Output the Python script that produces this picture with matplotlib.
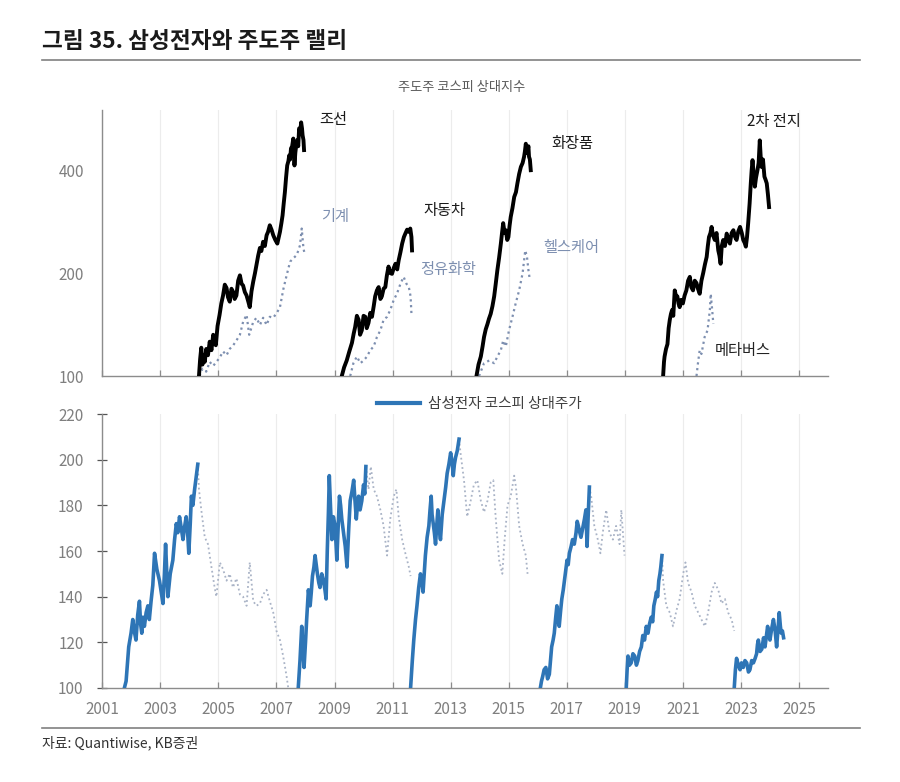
import matplotlib
matplotlib.use("Agg")
import matplotlib.pyplot as plt
from matplotlib.lines import Line2D
from matplotlib.ticker import NullLocator, FixedLocator

plt.rcParams['font.family'] = ['Noto Sans CJK KR', 'DejaVu Sans']

# ---------------- data: top panel (leading sectors, relative to KOSPI) ----------------
ship_x = [2004.33, 2004.37, 2004.41, 2004.45, 2004.50, 2004.53, 2004.58, 2004.64, 2004.70, 2004.76,
          2004.82, 2004.87, 2004.91, 2004.97, 2005.04, 2005.10, 2005.16, 2005.22, 2005.28, 2005.33,
          2005.39, 2005.45, 2005.51, 2005.56, 2005.62, 2005.68, 2005.74, 2005.80, 2005.85, 2005.91,
          2005.97, 2006.03, 2006.08, 2006.14, 2006.20, 2006.26, 2006.31, 2006.37, 2006.43, 2006.48,
          2006.54, 2006.60, 2006.66, 2006.71, 2006.77, 2006.83, 2006.89, 2006.96, 2007.03, 2007.08,
          2007.12, 2007.17, 2007.21, 2007.25, 2007.29, 2007.33, 2007.37, 2007.41, 2007.44, 2007.47,
          2007.50, 2007.54, 2007.58, 2007.60, 2007.62, 2007.65, 2007.68, 2007.72, 2007.75, 2007.78,
          2007.82, 2007.85, 2007.88, 2007.90, 2007.93, 2007.95]
ship_y = [100, 112, 121, 108, 115, 110, 120, 115, 126, 119,
          132, 126, 123, 140, 151, 163, 172, 185, 181, 170,
          165, 180, 176, 168, 172, 190, 197, 186, 184, 176,
          172, 165, 159, 177, 189, 200, 211, 225, 237, 232,
          247, 240, 258, 264, 276, 268, 258, 250, 244, 255,
          264, 280, 295, 320, 345, 380, 413, 425, 442, 430,
          463, 470, 495, 450, 413, 450, 473, 490, 470, 530,
          520, 552, 530, 506, 490, 458]

mach_x = [2004.35, 2004.45, 2004.58, 2004.70, 2004.82, 2004.93, 2005.04, 2005.16, 2005.28, 2005.39,
          2005.51, 2005.62, 2005.74, 2005.85, 2005.97, 2006.06, 2006.20, 2006.31, 2006.43, 2006.54,
          2006.66, 2006.77, 2006.89, 2007.03, 2007.12, 2007.24, 2007.35, 2007.47, 2007.58, 2007.70,
          2007.81, 2007.87, 2007.93, 2007.98]
mach_y = [100, 105, 103, 110, 107, 110, 113, 118, 115, 120,
          123, 127, 132, 144, 151, 132, 144, 148, 141, 148,
          141, 149, 148, 154, 159, 180, 197, 216, 221, 226,
          241, 270, 236, 226]

auto_x = [2009.25, 2009.33, 2009.42, 2009.51, 2009.60, 2009.66, 2009.71, 2009.77, 2009.83, 2009.88,
          2009.94, 2010.00, 2010.06, 2010.11, 2010.17, 2010.23, 2010.29, 2010.35, 2010.40, 2010.46,
          2010.52, 2010.58, 2010.63, 2010.69, 2010.75, 2010.80, 2010.86, 2010.92, 2010.98, 2011.04,
          2011.10, 2011.16, 2011.21, 2011.27, 2011.33, 2011.39, 2011.44, 2011.50, 2011.56, 2011.61,
          2011.65, 2011.67]
auto_y = [100, 106, 111, 118, 125, 133, 139, 150, 146, 132,
          136, 150, 149, 138, 143, 153, 149, 160, 171, 178,
          182, 168, 171, 180, 182, 196, 209, 200, 199, 207,
          213, 205, 218, 230, 244, 255, 261, 268, 264, 270,
          255, 233]

chem_x = [2009.54, 2009.65, 2009.77, 2009.89, 2010.00, 2010.12, 2010.23, 2010.35, 2010.46, 2010.58,
          2010.69, 2010.81, 2010.92, 2011.04, 2011.15, 2011.27, 2011.38, 2011.48, 2011.56, 2011.62,
          2011.65]
chem_y = [100, 109, 114, 109, 111, 114, 119, 122, 130, 136,
          146, 149, 156, 167, 174, 186, 195, 186, 182, 171,
          152]

cos_x = [2013.89, 2013.96, 2014.04, 2014.10, 2014.15, 2014.21, 2014.27, 2014.32, 2014.38, 2014.44,
         2014.50, 2014.55, 2014.61, 2014.67, 2014.73, 2014.77, 2014.81, 2014.86, 2014.90, 2014.95,
         2014.99, 2015.03, 2015.07, 2015.13, 2015.19, 2015.25, 2015.30, 2015.36, 2015.42, 2015.48,
         2015.53, 2015.56, 2015.59, 2015.62, 2015.65, 2015.68, 2015.70, 2015.73, 2015.76]
cos_y = [100, 108, 114, 122, 130, 137, 142, 147, 152, 160,
         171, 185, 204, 222, 244, 262, 280, 262, 267, 250,
         255, 275, 292, 310, 334, 345, 366, 390, 409, 420,
         438, 455, 478, 450, 458, 470, 438, 430, 400]

hc_x = [2013.98, 2014.15, 2014.33, 2014.50, 2014.61, 2014.73, 2014.81, 2014.90, 2015.01, 2015.13,
        2015.24, 2015.36, 2015.48, 2015.57, 2015.63, 2015.68, 2015.73]
hc_y = [100, 109, 111, 109, 114, 119, 127, 122, 136, 149,
        163, 178, 200, 233, 223, 204, 191]

batt_x = [2020.32, 2020.35, 2020.37, 2020.42, 2020.47, 2020.51, 2020.55, 2020.59, 2020.63, 2020.67,
          2020.72, 2020.76, 2020.81, 2020.85, 2020.89, 2020.94, 2021.00, 2021.06, 2021.12, 2021.18,
          2021.24, 2021.29, 2021.35, 2021.41, 2021.47, 2021.52, 2021.58, 2021.64, 2021.70, 2021.76,
          2021.82, 2021.86, 2021.90, 2021.95, 2021.99, 2022.04, 2022.10, 2022.16, 2022.22, 2022.26,
          2022.30, 2022.34, 2022.39, 2022.45, 2022.51, 2022.56, 2022.62, 2022.68, 2022.74, 2022.80,
          2022.85, 2022.91, 2022.97, 2023.03, 2023.08, 2023.13, 2023.17, 2023.21, 2023.25, 2023.30,
          2023.34, 2023.37, 2023.40, 2023.44, 2023.48, 2023.52, 2023.57, 2023.61, 2023.65, 2023.68,
          2023.71, 2023.76, 2023.81, 2023.85, 2023.89, 2023.93, 2023.97]
batt_y = [100, 110, 114, 120, 124, 138, 146, 152, 156, 150,
          178, 172, 171, 163, 159, 167, 163, 172, 178, 190,
          195, 182, 178, 190, 187, 180, 174, 190, 200, 212,
          223, 240, 255, 262, 273, 258, 250, 262, 233, 225,
          213, 240, 250, 240, 261, 252, 244, 262, 267, 255,
          250, 265, 273, 262, 250, 245, 239, 255, 280, 320,
          366, 400, 428, 390, 358, 380, 400, 420, 489, 440,
          409, 430, 383, 375, 366, 340, 312]

meta_x = [2021.47, 2021.52, 2021.58, 2021.64, 2021.75, 2021.85, 2021.93, 2021.96, 2022.01, 2022.05]
meta_y = [100, 109, 119, 116, 130, 136, 156, 174, 156, 142]

leaders = [  # (x, y, label, label_x, label_y, style)
    (ship_x, ship_y, '조선', 2008.94, 564, 'lead'),
    (mach_x, mach_y, '기계', 2009.01, 293, 'follow'),
    (auto_x, auto_y, '자동차', 2012.77, 304, 'lead'),
    (chem_x, chem_y, '정유화학', 2012.90, 205, 'follow'),
    (cos_x, cos_y, '화장품', 2017.20, 480, 'lead'),
    (hc_x, hc_y, '헬스케어', 2017.17, 238, 'follow'),
    (batt_x, batt_y, '2차 전지', 2024.13, 556, 'lead'),
    (meta_x, meta_y, '메타버스', 2023.06, 119, 'follow_darklabel'),
]

# ---------------- data: bottom panel (Samsung Electronics relative to KOSPI) ----------------
r1_x = [2001.76, 2001.82, 2001.91, 2001.99, 2002.05, 2002.10, 2002.16, 2002.22, 2002.28, 2002.32,
        2002.36, 2002.40, 2002.45, 2002.51, 2002.57, 2002.62, 2002.68, 2002.74, 2002.80, 2002.88,
        2002.97, 2003.03, 2003.09, 2003.14, 2003.18, 2003.22, 2003.26, 2003.34, 2003.43, 2003.49,
        2003.55, 2003.60, 2003.66, 2003.72, 2003.78, 2003.84, 2003.89, 2003.94, 2003.98, 2004.03,
        2004.07, 2004.12, 2004.18, 2004.24, 2004.29]
r1_y = [100, 103, 118, 124, 130, 125, 121, 132, 138, 128,
        124, 131, 127, 133, 136, 130, 138, 145, 159, 152,
        147, 142, 137, 150, 163, 151, 140, 150, 156, 165,
        172, 168, 175, 170, 165, 171, 175, 168, 159, 172,
        184, 180, 187, 193, 198]
o1_x = [2004.29, 2004.33, 2004.41, 2004.53, 2004.64, 2004.76, 2004.87, 2004.93, 2005.05, 2005.16,
        2005.28, 2005.39, 2005.50, 2005.62, 2005.74, 2005.85, 2005.97, 2006.08, 2006.20, 2006.31,
        2006.43, 2006.54, 2006.66, 2006.77, 2006.89, 2007.00, 2007.12, 2007.23, 2007.35, 2007.44,
        2007.58, 2007.70]
o1_y = [198, 187, 178, 166, 163, 153, 144, 140, 155, 152,
        147, 150, 144, 148, 141, 140, 136, 155, 138, 136,
        137, 141, 143, 138, 133, 125, 121, 114, 105, 97,
        96, 97]
r2_x = [2007.75, 2007.81, 2007.87, 2007.91, 2007.95, 2008.00, 2008.04, 2008.10, 2008.16, 2008.20,
        2008.24, 2008.29, 2008.33, 2008.37, 2008.41, 2008.46, 2008.50, 2008.56, 2008.62, 2008.67,
        2008.71, 2008.75, 2008.79, 2008.82, 2008.86, 2008.91, 2008.96, 2009.02, 2009.08, 2009.13,
        2009.17, 2009.21, 2009.25, 2009.31, 2009.37, 2009.43, 2009.49, 2009.54, 2009.60, 2009.66,
        2009.70, 2009.75, 2009.79, 2009.83, 2009.88, 2009.94, 2010.00, 2010.04, 2010.08]
r2_y = [100, 112, 127, 118, 109, 120, 130, 143, 136, 142,
        149, 153, 158, 154, 150, 146, 144, 150, 147, 143,
        139, 160, 177, 193, 180, 165, 175, 171, 156, 172,
        184, 180, 174, 168, 162, 153, 170, 182, 186, 191,
        183, 174, 180, 184, 178, 182, 189, 185, 197]
o2_x = [2010.08, 2010.17, 2010.25, 2010.35, 2010.46, 2010.58, 2010.69, 2010.81, 2010.92, 2011.04,
        2011.13, 2011.21, 2011.33, 2011.44, 2011.56, 2011.62]
o2_y = [197, 187, 197, 187, 184, 178, 171, 158, 174, 184,
        187, 175, 165, 159, 153, 149]
r3_x = [2011.62, 2011.68, 2011.73, 2011.79, 2011.84, 2011.90, 2011.96, 2012.01, 2012.05, 2012.09,
        2012.13, 2012.19, 2012.25, 2012.29, 2012.33, 2012.36, 2012.40, 2012.44, 2012.48, 2012.52,
        2012.56, 2012.60, 2012.65, 2012.71, 2012.77, 2012.83, 2012.88, 2012.94, 2013.00, 2013.05,
        2013.09, 2013.13, 2013.17, 2013.23, 2013.29]
r3_y = [100, 112, 121, 130, 136, 144, 150, 147, 142, 150,
        158, 166, 171, 178, 184, 176, 172, 168, 163, 171,
        178, 170, 165, 176, 182, 188, 194, 198, 203, 199,
        193, 198, 201, 204, 209]
o3_x = [2013.29, 2013.34, 2013.46, 2013.57, 2013.69, 2013.80, 2013.92, 2014.04, 2014.15, 2014.27,
        2014.38, 2014.47, 2014.55, 2014.67, 2014.78, 2014.86, 2014.96, 2015.07, 2015.19, 2015.25,
        2015.36, 2015.48, 2015.59, 2015.65]
o3_y = [209, 203, 191, 175, 182, 189, 191, 182, 177, 182,
        190, 191, 175, 156, 150, 165, 180, 184, 193, 188,
        171, 163, 158, 150]
r4_x = [2016.09, 2016.13, 2016.17, 2016.22, 2016.28, 2016.34, 2016.40, 2016.44, 2016.48, 2016.53,
        2016.57, 2016.62, 2016.66, 2016.70, 2016.74, 2016.79, 2016.83, 2016.88, 2016.92, 2016.97,
        2017.01, 2017.05, 2017.09, 2017.15, 2017.20, 2017.26, 2017.32, 2017.36, 2017.40, 2017.45,
        2017.49, 2017.55, 2017.61, 2017.66, 2017.70, 2017.74, 2017.78]
r4_y = [100, 103, 105, 108, 109, 104, 106, 112, 118, 121,
        124, 131, 136, 130, 127, 134, 139, 143, 147, 152,
        156, 154, 159, 162, 165, 163, 168, 173, 171, 168,
        166, 170, 174, 178, 162, 176, 188]
o4_x = [2017.78, 2017.84, 2017.95, 2018.07, 2018.16, 2018.24, 2018.36, 2018.47, 2018.59, 2018.70,
        2018.82, 2018.88, 2018.99]
o4_y = [188, 184, 171, 165, 159, 168, 178, 168, 165, 171,
        163, 178, 158]
r5_x = [2019.05, 2019.08, 2019.11, 2019.16, 2019.22, 2019.28, 2019.34, 2019.40, 2019.45, 2019.51,
        2019.57, 2019.62, 2019.68, 2019.74, 2019.80, 2019.85, 2019.91, 2019.96, 2020.00, 2020.05,
        2020.09, 2020.13, 2020.17, 2020.21, 2020.24, 2020.28]
r5_y = [100, 108, 114, 110, 111, 115, 114, 110, 112, 116,
        118, 123, 121, 127, 124, 128, 131, 129, 136, 139,
        142, 140, 147, 150, 153, 158]
o5_x = [2020.28, 2020.32, 2020.43, 2020.55, 2020.66, 2020.78, 2020.89, 2021.01, 2021.09, 2021.18,
        2021.30, 2021.41, 2021.53, 2021.64, 2021.76, 2021.87, 2021.99, 2022.10, 2022.22, 2022.33,
        2022.45, 2022.56, 2022.68, 2022.77]
o5_y = [158, 147, 136, 133, 127, 134, 139, 150, 155, 146,
        142, 136, 133, 130, 127, 133, 142, 146, 143, 137,
        139, 133, 130, 125]
r6_x = [2022.77, 2022.81, 2022.85, 2022.91, 2022.97, 2023.02, 2023.08, 2023.14, 2023.20, 2023.26,
        2023.31, 2023.37, 2023.43, 2023.49, 2023.54, 2023.57, 2023.60, 2023.66, 2023.72, 2023.78,
        2023.83, 2023.88, 2023.92, 2023.96, 2024.00, 2024.06, 2024.12, 2024.18, 2024.23, 2024.28,
        2024.32, 2024.36, 2024.39, 2024.43, 2024.47]
r6_y = [100, 108, 113, 110, 108, 111, 109, 112, 111, 107,
        108, 112, 111, 113, 115, 119, 121, 116, 117, 122,
        118, 123, 127, 123, 121, 126, 130, 125, 118, 126,
        133, 127, 124, 125, 122]

rally_segments = [(r1_x, r1_y), (r2_x, r2_y), (r3_x, r3_y), (r4_x, r4_y), (r5_x, r5_y), (r6_x, r6_y)]
off_segments = [(o1_x, o1_y), (o2_x, o2_y), (o3_x, o3_y), (o4_x, o4_y), (o5_x, o5_y)]

year_ticks = list(range(2001, 2026, 2))
year_labels = [str(y) for y in year_ticks]
top_yticks = [100, 200, 400]
bot_yticks = [100, 120, 140, 160, 180, 200, 220]

title = '그림 35. 삼성전자와 주도주 랠리'
top_title = '주도주 코스피 상대지수'
legend_label = '삼성전자 코스피 상대주가'
source = '자료: Quantiwise, KB증권'

# ---------------- styles ----------------
W, H = 900, 782
BLACK = '#000000'
DOT_TOP = '#7d8fb0'
DOT_BOT = '#a9b3c6'
BLUE = '#2e75b6'
AXC = '#8c8c8c'
TICKC = '#7f7f7f'
GRID = '#ececec'

fig = plt.figure(figsize=(W / 100, H / 100), dpi=100)
fig.patch.set_facecolor('white')

left = 102.3 / W
width = (828 - 102.3) / W
ax1 = fig.add_axes([left, 1 - 376 / H, width, 266 / H])
ax2 = fig.add_axes([left, 1 - 688 / H, width, 274 / H])

for ax in (ax1, ax2):
    ax.set_xlim(2001, 2026)
    for s in ('top', 'right'):
        ax.spines[s].set_visible(False)
    for s in ('left', 'bottom'):
        ax.spines[s].set_color(AXC)
        ax.spines[s].set_linewidth(1.0)
    ax.set_xticks(year_ticks)
    ax.xaxis.set_minor_locator(NullLocator())
    ax.grid(axis='x', color=GRID, linewidth=0.8, zorder=0)
    ax.set_axisbelow(True)
    ax.tick_params(axis='x', direction='in', length=4, width=0.9, color=AXC)

# top panel
ax1.set_yscale('log')
ax1.set_ylim(100, 600)
ax1.yaxis.set_major_locator(FixedLocator(top_yticks))
ax1.yaxis.set_minor_locator(NullLocator())
ax1.set_yticklabels([str(v) for v in top_yticks])
ax1.tick_params(axis='y', length=0, pad=13, labelsize=11, labelcolor=TICKC)
ax1.tick_params(axis='x', labelbottom=False)

for xs, ys, lab, lx, ly, style in leaders:
    if style == 'lead':
        ax1.plot(xs, ys, color=BLACK, linewidth=2.8, zorder=3)
        ax1.text(lx, ly, lab, ha='center', va='center', fontsize=11, color='#1a1a1a')
    else:
        ax1.plot(xs, ys, color=DOT_TOP, linewidth=1.6, linestyle=(0, (1, 1.6)), zorder=2)
        col = '#222222' if style == 'follow_darklabel' else DOT_TOP
        ax1.text(lx, ly, lab, ha='center', va='center', fontsize=11, color=col)

# bottom panel
ax2.set_ylim(100, 220)
ax2.set_yticks(bot_yticks)
ax2.yaxis.set_minor_locator(NullLocator())
ax2.tick_params(axis='y', direction='inout', length=7, width=0.9, color='#555555',
                pad=10, labelsize=11, labelcolor=TICKC)
ax2.set_xticklabels(year_labels)
ax2.tick_params(axis='x', pad=9, labelsize=11, labelcolor=TICKC)

for xs, ys in off_segments:
    ax2.plot(xs, ys, color=DOT_BOT, linewidth=1.3, linestyle=(0, (1, 1.6)), zorder=2)
for xs, ys in rally_segments:
    ax2.plot(xs, ys, color=BLUE, linewidth=2.6, zorder=3)

handle = Line2D([], [], color=BLUE, linewidth=3)
fig.legend([handle], [legend_label], loc='center', bbox_to_anchor=(479 / W, 1 - 404 / H),
           frameon=False, fontsize=10.5, handlelength=2.95, handletextpad=0.55,
           labelcolor='#404040', borderpad=0, borderaxespad=0)

# header / footer
fig.text(42 / W, 1 - 42 / H, title, ha='left', va='center', fontsize=16.3,
         fontweight='bold', color='#1a1a1a')
fig.add_artist(Line2D([42 / W, 860 / W], [1 - 60 / H, 1 - 60 / H], transform=fig.transFigure,
                      color='#808080', linewidth=1.2))
fig.text(462 / W, 1 - 88 / H, top_title, ha='center', va='center', fontsize=9.5, color='#595959')
fig.add_artist(Line2D([42 / W, 860 / W], [1 - 728 / H, 1 - 728 / H], transform=fig.transFigure,
                      color='#808080', linewidth=1.2))
fig.text(42 / W, 1 - 743 / H, source, ha='left', va='center', fontsize=10, color='#333333')

fig.savefig('out.png', dpi=100, facecolor='white')
